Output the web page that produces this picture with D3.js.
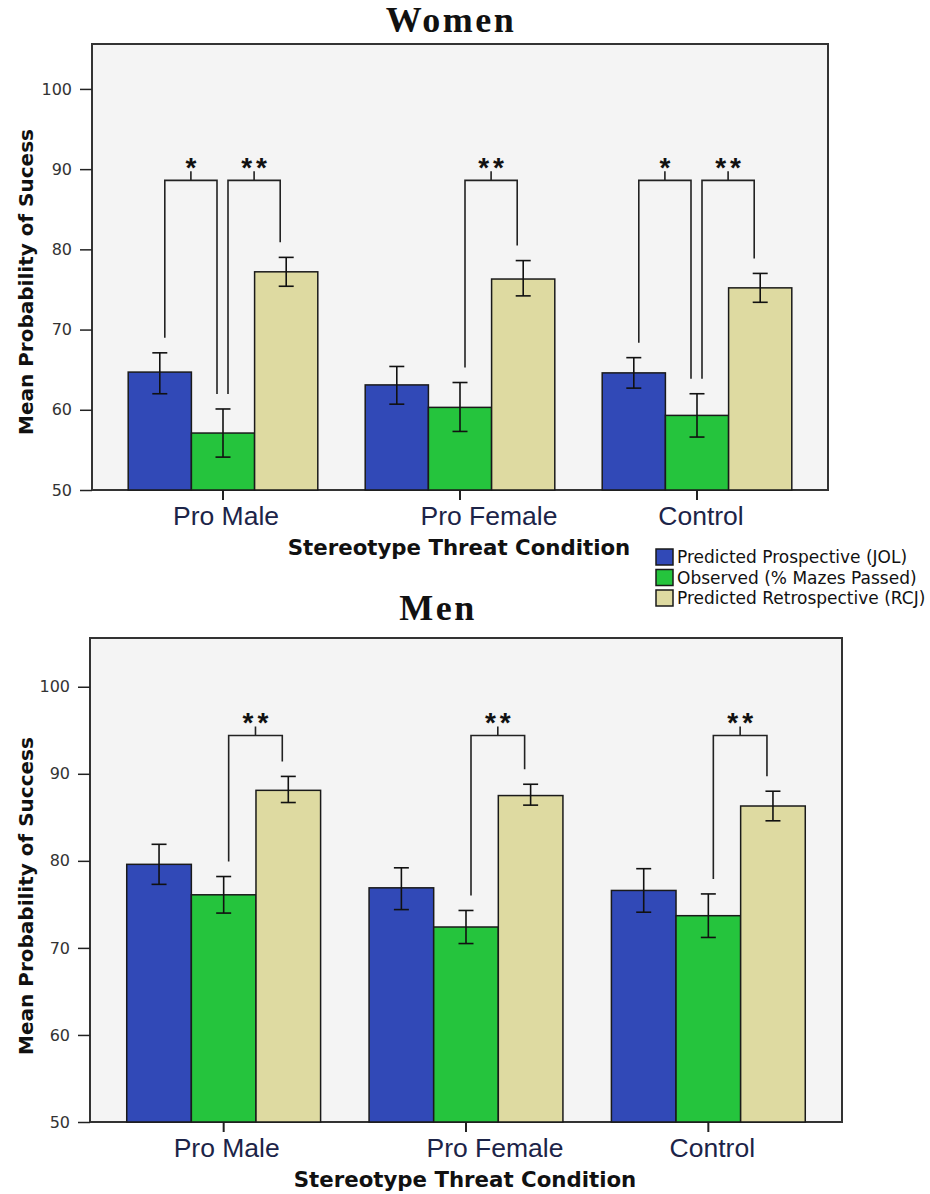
<!DOCTYPE html>
<html>
<head>
    <title>Stereotype Threat - Mean Probability of Success</title>
    <script src="https://cdnjs.cloudflare.com/ajax/libs/d3/7.8.5/d3.min.js"></script>
    <style>
        body { margin: 0; background: #fff; }
        .tick-label { font-family: "DejaVu Sans", sans-serif; font-size: 16px; fill: #333; }
        .cat-label { font-family: "Liberation Sans", Arial, sans-serif; font-size: 26.5px; fill: #1c2448; }
        .axis-title { font-family: "DejaVu Sans", Verdana, sans-serif; font-size: 20px; font-weight: bold; fill: #111; }
        .x-title { font-size: 21.3px; }
        .panel-title { font-family: "Liberation Serif", "Times New Roman", serif; font-size: 36px; font-weight: bold; fill: #111; letter-spacing: 2.5px; }
        .legend-text { font-family: "DejaVu Sans", Verdana, sans-serif; font-size: 17px; fill: #111; }
        .stars { font-family: "Liberation Sans", Arial, sans-serif; font-size: 28px; font-weight: bold; fill: #111; letter-spacing: 4px; }
    </style>
</head>
<body>
<svg id="chart"></svg>

<script>
    const width = 930;
    const height = 1194;

    const categories = ["Pro Male", "Pro Female", "Control"];
    const seriesNames = [
        "Predicted Prospective (JOL)",
        "Observed (% Mazes Passed)",
        "Predicted Retrospective (RCJ)"
    ];
    const yTicks = [50, 60, 70, 80, 90, 100];

    // rows = series (JOL, observed, RCJ), columns = categories
    const womenMeans = [[64.7, 63.1, 64.6], [57.1, 60.3, 59.3], [77.2, 76.3, 75.2]];
    const womenLow   = [[62.0, 60.7, 62.7], [54.1, 57.3, 56.6], [75.4, 74.2, 73.4]];
    const womenHigh  = [[67.1, 65.4, 66.5], [60.1, 63.4, 62.0], [79.0, 78.6, 77.0]];

    const menMeans = [[79.6, 76.9, 76.6], [76.1, 72.4, 73.7], [88.1, 87.5, 86.3]];
    const menLow   = [[77.3, 74.4, 74.1], [74.0, 70.5, 71.2], [86.7, 86.4, 84.6]];
    const menHigh  = [[81.9, 79.2, 79.1], [78.2, 74.3, 76.2], [89.7, 88.8, 88.0]];

    // significance brackets: category, from series, to series, label
    const womenBrackets = [
        ["Pro Male", 0, 1, "*"], ["Pro Male", 1, 2, "**"],
        ["Pro Female", 1, 2, "**"],
        ["Control", 0, 1, "*"], ["Control", 1, 2, "**"]
    ];
    const menBrackets = [
        ["Pro Male", 1, 2, "**"], ["Pro Female", 1, 2, "**"], ["Control", 1, 2, "**"]
    ];
    const womenBracketLevel = 88.6;
    const menBracketLevel = 94.4;

    const colors = ["#3149b7", "#25c43d", "#dedaa1"];

    const svg = d3.select("#chart")
        .attr("width", width)
        .attr("height", height);

    svg.append("rect").attr("width", width).attr("height", height).attr("fill", "#fff");

    function drawPanel(cfg) {
        const g = svg.append("g");

        const y = d3.scaleLinear().domain([50, 105.6]).range([cfg.y1, cfg.y0]);
        const x = d3.scaleBand()
            .domain(categories)
            .range([cfg.x0 + 12.5, cfg.x1 - 12.5])
            .paddingInner(0.2)
            .paddingOuter(0.1);
        const xs = d3.scaleBand()
            .domain(d3.range(seriesNames.length))
            .range([0, x.bandwidth()]);

        // plot area
        g.append("rect")
            .attr("x", cfg.x0).attr("y", cfg.y0)
            .attr("width", cfg.x1 - cfg.x0).attr("height", cfg.y1 - cfg.y0)
            .attr("fill", "#f4f4f4")
            .attr("stroke", "#333")
            .attr("stroke-width", 2);

        // y axis
        const yAxis = g.append("g")
            .attr("transform", `translate(${cfg.x0},0)`)
            .call(d3.axisLeft(y).tickValues(yTicks).tickSize(12).tickPadding(8));
        yAxis.select(".domain").remove();
        yAxis.selectAll("line").attr("stroke", "#222").attr("stroke-width", 1.5);
        yAxis.selectAll("text").attr("class", "tick-label").attr("font-size", null).attr("font-family", null);

        // x axis ticks
        const xAxis = g.append("g")
            .attr("transform", `translate(0,${cfg.y1})`)
            .call(d3.axisBottom(x).tickSize(10).tickFormat(""));
        xAxis.select(".domain").remove();
        xAxis.selectAll("line").attr("stroke", "#222").attr("stroke-width", 2);

        const labelShift = { "Pro Male": 3, "Pro Female": 29, "Control": 4 };
        g.selectAll(".cat-label")
            .data(categories)
            .join("text")
            .attr("class", "cat-label")
            .attr("x", d => x(d) + x.bandwidth() / 2 + labelShift[d])
            .attr("y", cfg.y1 + 35)
            .attr("text-anchor", "middle")
            .text(d => d);

        // bars
        const cells = [];
        cfg.means.forEach((row, s) => row.forEach((v, c) => cells.push({
            s, cat: categories[c], v, lo: cfg.low[s][c], hi: cfg.high[s][c]
        })));
        const barX = d => x(d.cat) + xs(d.s);

        g.append("g").selectAll("rect")
            .data(cells)
            .join("rect")
            .attr("x", barX)
            .attr("y", d => y(d.v))
            .attr("width", xs.bandwidth())
            .attr("height", d => y(50) - y(d.v))
            .attr("fill", d => colors[d.s])
            .attr("stroke", "#1a1a1a")
            .attr("stroke-width", 1.5);

        // error bars
        const eb = g.append("g").attr("stroke", "#111").attr("stroke-width", 1.6);
        const cx = d => barX(d) + xs.bandwidth() / 2;
        eb.selectAll(".stem").data(cells).join("line")
            .attr("x1", cx).attr("x2", cx)
            .attr("y1", d => y(d.lo)).attr("y2", d => y(d.hi));
        eb.selectAll(".capT").data(cells).join("line")
            .attr("x1", d => cx(d) - 7.5).attr("x2", d => cx(d) + 7.5)
            .attr("y1", d => y(d.hi)).attr("y2", d => y(d.hi));
        eb.selectAll(".capB").data(cells).join("line")
            .attr("x1", d => cx(d) - 7.5).attr("x2", d => cx(d) + 7.5)
            .attr("y1", d => y(d.lo)).attr("y2", d => y(d.lo));

        // significance brackets
        const br = g.append("g");
        const yl = y(cfg.level);
        cfg.brackets.forEach(([cat, a, b, label]) => {
            const ci = categories.indexOf(cat);
            const xa = x(cat) + xs(a) + xs.bandwidth() / 2 + 5;
            const xb = x(cat) + xs(b) + xs.bandwidth() / 2 - 6;
            const ya = y(cfg.high[a][ci]) - 15;
            const yb = y(cfg.high[b][ci]) - 15;
            const xm = (xa + xb) / 2;
            br.append("path")
                .attr("d", `M${xa},${ya}V${yl}H${xb}V${yb}M${xm},${yl}V${yl - 9}`)
                .attr("fill", "none")
                .attr("stroke", "#222")
                .attr("stroke-width", 1.6);
            br.append("text")
                .attr("class", "stars")
                .attr("x", xm + 2)
                .attr("y", yl - 3)
                .attr("text-anchor", "middle")
                .text(label);
        });

        // titles
        g.append("text")
            .attr("class", "panel-title")
            .attr("x", cfg.titleX + 1)
            .attr("y", cfg.titleY)
            .attr("text-anchor", "middle")
            .text(cfg.title);

        g.append("text")
            .attr("class", "axis-title x-title")
            .attr("x", (cfg.x0 + cfg.x1) / 2 - 1)
            .attr("y", cfg.y1 + 65)
            .attr("text-anchor", "middle")
            .text("Stereotype Threat Condition");

        g.append("text")
            .attr("class", "axis-title")
            .attr("transform", `translate(33,${cfg.yLabelY}) rotate(-90)`)
            .attr("text-anchor", "middle")
            .text(cfg.yLabel);
    }

    drawPanel({
        x0: 92, x1: 828, y0: 44, y1: 490,
        means: womenMeans, low: womenLow, high: womenHigh,
        brackets: womenBrackets, level: womenBracketLevel,
        title: "Women", titleX: 450, titleY: 32,
        yLabel: "Mean Probability of Sucess", yLabelY: 282
    });

    drawPanel({
        x0: 90, x1: 842, y0: 638, y1: 1122,
        means: menMeans, low: menLow, high: menHigh,
        brackets: menBrackets, level: menBracketLevel,
        title: "Men", titleX: 437, titleY: 620,
        yLabel: "Mean Probability of Success", yLabelY: 896
    });

    // legend
    const legend = svg.append("g").attr("transform", "translate(656,549)");
    const item = legend.selectAll("g")
        .data(seriesNames)
        .join("g")
        .attr("transform", (d, i) => `translate(0,${i * 20.5})`);
    item.append("rect")
        .attr("width", 17).attr("height", 16)
        .attr("fill", (d, i) => colors[i])
        .attr("stroke", "#1a1a1a")
        .attr("stroke-width", 1.5);
    item.append("text")
        .attr("class", "legend-text")
        .attr("x", 21)
        .attr("y", 14)
        .text(d => d);
</script>
</body>
</html>
